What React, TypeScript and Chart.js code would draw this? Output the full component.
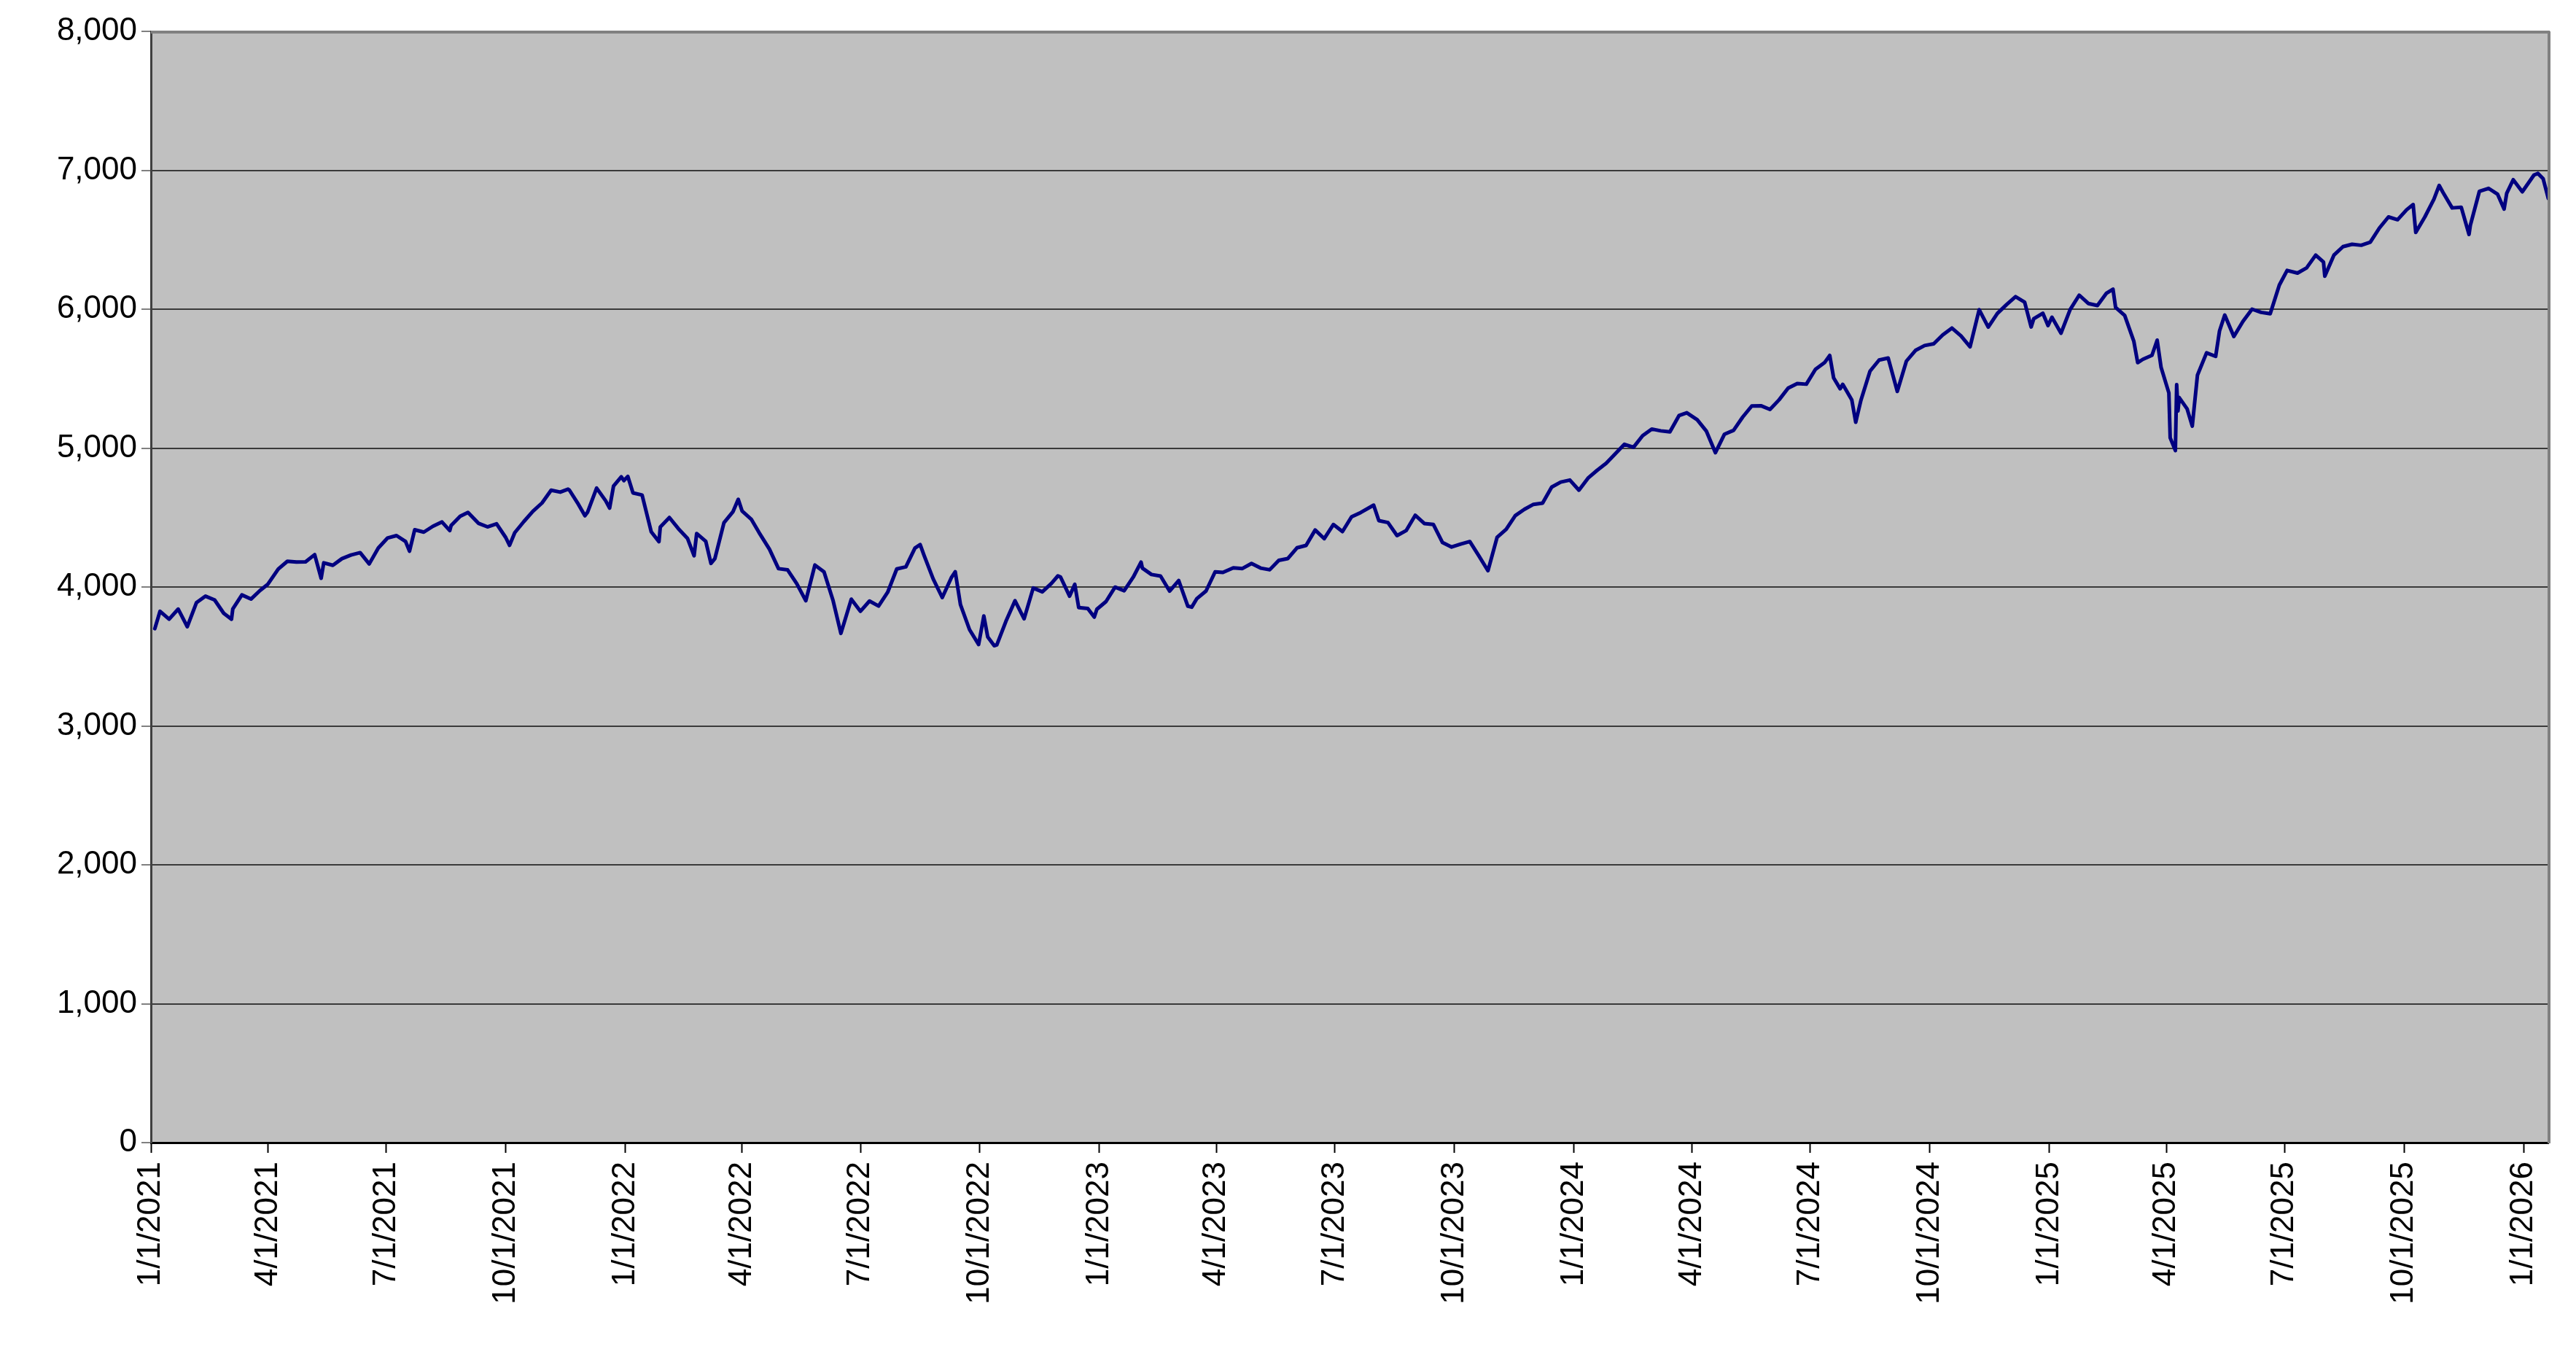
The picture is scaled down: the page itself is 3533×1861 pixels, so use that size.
import React, { useEffect, useRef } from "react";
import { Chart, registerables } from "chart.js";

Chart.register(...registerables);

const tickLabels = [
  "1/1/2021", "4/1/2021", "7/1/2021", "10/1/2021",
  "1/1/2022", "4/1/2022", "7/1/2022", "10/1/2022",
  "1/1/2023", "4/1/2023", "7/1/2023", "10/1/2023",
  "1/1/2024", "4/1/2024", "7/1/2024", "10/1/2024",
  "1/1/2025", "4/1/2025", "7/1/2025", "10/1/2025",
  "1/1/2026",
];

const yTicks = [0, 1000, 2000, 3000, 4000, 5000, 6000, 7000, 8000];

const dates2021 = [
  "2021-01-04","2021-01-08","2021-01-15","2021-01-22","2021-01-27","2021-01-29","2021-02-05","2021-02-12","2021-02-19","2021-02-26",
  "2021-03-04","2021-03-05","2021-03-12","2021-03-19","2021-03-26","2021-04-01","2021-04-09","2021-04-16","2021-04-23","2021-04-30",
  "2021-05-07","2021-05-12","2021-05-14","2021-05-21","2021-05-28","2021-06-04","2021-06-11","2021-06-18","2021-06-25","2021-07-02",
  "2021-07-09","2021-07-16","2021-07-19","2021-07-23","2021-07-30","2021-08-06","2021-08-13","2021-08-19","2021-08-20","2021-08-27",
  "2021-09-02","2021-09-10","2021-09-17","2021-09-24","2021-10-01","2021-10-04","2021-10-08","2021-10-15","2021-10-22","2021-10-29",
  "2021-11-05","2021-11-12","2021-11-18","2021-11-19","2021-11-26","2021-12-01","2021-12-03","2021-12-10","2021-12-17","2021-12-20",
  "2021-12-23","2021-12-29","2021-12-31",
];
const values2021 = [
  3700,3825,3768,3841,3750,3714,3887,3934,3907,3811,
  3768,3842,3943,3913,3975,4020,4129,4185,4180,4181,
  4233,4063,4174,4156,4204,4230,4247,4166,4281,4352,
  4370,4327,4258,4412,4395,4437,4468,4406,4442,4509,
  4537,4459,4433,4455,4357,4300,4391,4471,4545,4605,
  4697,4683,4704,4698,4595,4513,4538,4712,4620,4568,
  4726,4793,4766,
];

const dates2022 = [
  "2022-01-03","2022-01-07","2022-01-14","2022-01-21","2022-01-27","2022-01-28","2022-02-04","2022-02-11","2022-02-18","2022-02-23",
  "2022-02-25","2022-03-04","2022-03-08","2022-03-11","2022-03-18","2022-03-25","2022-03-29","2022-04-01","2022-04-08","2022-04-14",
  "2022-04-22","2022-04-29","2022-05-06","2022-05-13","2022-05-20","2022-05-27","2022-06-03","2022-06-10","2022-06-16","2022-06-24",
  "2022-07-01","2022-07-08","2022-07-15","2022-07-22","2022-07-29","2022-08-05","2022-08-12","2022-08-16","2022-08-19","2022-08-26",
  "2022-09-02","2022-09-09","2022-09-12","2022-09-16","2022-09-23","2022-09-30","2022-10-04","2022-10-07","2022-10-12","2022-10-14",
  "2022-10-21","2022-10-28","2022-11-04","2022-11-11","2022-11-18","2022-11-25","2022-11-30","2022-12-02","2022-12-09","2022-12-13",
  "2022-12-16","2022-12-23","2022-12-28","2022-12-30",
];
const values2022 = [
  4796,4677,4662,4398,4326,4432,4500,4419,4349,4225,
  4385,4329,4170,4204,4463,4543,4631,4546,4488,4392,
  4272,4132,4123,4024,3901,4158,4109,3901,3666,3912,
  3825,3899,3863,3962,4130,4145,4280,4305,4228,4058,
  3924,4067,4110,3873,3693,3586,3791,3640,3577,3583,
  3753,3901,3771,3993,3965,4026,4080,4072,3934,4019,
  3852,3845,3783,3840,
];

const dates2023 = [
  "2023-01-06","2023-01-13","2023-01-20","2023-01-27","2023-02-02","2023-02-03","2023-02-10","2023-02-17","2023-02-24","2023-03-03",
  "2023-03-10","2023-03-13","2023-03-17","2023-03-24","2023-03-31","2023-04-06","2023-04-14","2023-04-21","2023-04-28","2023-05-05",
  "2023-05-12","2023-05-19","2023-05-26","2023-06-02","2023-06-09","2023-06-16","2023-06-23","2023-06-30","2023-07-07","2023-07-14",
  "2023-07-21","2023-07-31","2023-08-04","2023-08-11","2023-08-18","2023-08-25","2023-09-01","2023-09-08","2023-09-15","2023-09-22",
  "2023-09-29","2023-10-06","2023-10-13","2023-10-20","2023-10-27","2023-11-03","2023-11-10","2023-11-17","2023-11-24","2023-12-01",
  "2023-12-08","2023-12-15","2023-12-22","2023-12-29",
];
const values2023 = [
  3895,3999,3973,4071,4179,4136,4090,4079,3970,4046,
  3862,3855,3917,3971,4109,4105,4138,4133,4169,4136,
  4124,4192,4205,4282,4299,4410,4348,4450,4399,4505,
  4536,4589,4478,4464,4370,4406,4516,4457,4450,4320,
  4288,4309,4327,4224,4117,4358,4415,4514,4559,4595,
  4604,4719,4755,4770,
];

const dates2024 = [
  "2024-01-05","2024-01-12","2024-01-19","2024-01-26","2024-02-02","2024-02-09","2024-02-16","2024-02-23","2024-03-01","2024-03-08",
  "2024-03-15","2024-03-22","2024-03-28","2024-04-05","2024-04-12","2024-04-19","2024-04-26","2024-05-03","2024-05-10","2024-05-17",
  "2024-05-24","2024-05-31","2024-06-07","2024-06-14","2024-06-21","2024-06-28","2024-07-05","2024-07-12","2024-07-16","2024-07-19",
  "2024-07-24","2024-07-26","2024-08-02","2024-08-05","2024-08-09","2024-08-16","2024-08-23","2024-08-30","2024-09-06","2024-09-13",
  "2024-09-20","2024-09-27","2024-10-04","2024-10-11","2024-10-18","2024-10-25","2024-11-01","2024-11-08","2024-11-15","2024-11-22",
  "2024-11-29","2024-12-06","2024-12-13","2024-12-18","2024-12-20","2024-12-27","2024-12-31",
];
const values2024 = [
  4697,4784,4840,4891,4959,5027,5006,5089,5137,5124,
  5117,5234,5254,5204,5123,4967,5100,5128,5223,5303,
  5305,5278,5347,5432,5465,5460,5567,5615,5667,5505,
  5427,5459,5346,5186,5344,5554,5634,5648,5408,5626,
  5703,5738,5751,5815,5864,5808,5729,5996,5871,5969,
  6032,6090,6051,5872,5931,5971,5882,
];

const dates2025 = [
  "2025-01-03","2025-01-10","2025-01-17","2025-01-24","2025-01-31","2025-02-07","2025-02-14","2025-02-19","2025-02-21","2025-02-28",
  "2025-03-07","2025-03-10","2025-03-14","2025-03-21","2025-03-25","2025-03-28","2025-04-03","2025-04-04","2025-04-08","2025-04-09",
  "2025-04-10","2025-04-11","2025-04-17","2025-04-21","2025-04-25","2025-05-02","2025-05-09","2025-05-12","2025-05-16","2025-05-23",
  "2025-05-30","2025-06-06","2025-06-13","2025-06-20","2025-06-27","2025-07-03","2025-07-11","2025-07-18","2025-07-25","2025-07-31",
  "2025-08-01","2025-08-08","2025-08-15","2025-08-22","2025-08-29","2025-09-05","2025-09-12","2025-09-19","2025-09-26","2025-10-03",
  "2025-10-08","2025-10-10","2025-10-17","2025-10-24","2025-10-28","2025-10-31","2025-11-07","2025-11-14","2025-11-20","2025-11-21",
  "2025-11-28","2025-12-05","2025-12-12","2025-12-17","2025-12-19","2025-12-24","2025-12-31",
];
const values2025 = [
  5942,5827,5997,6101,6041,6026,6115,6144,6013,5955,
  5770,5615,5639,5668,5777,5581,5397,5074,4982,5457,
  5268,5363,5283,5158,5525,5686,5660,5844,5958,5803,
  5912,6000,5977,5967,6173,6279,6260,6297,6389,6339,
  6238,6389,6450,6467,6460,6482,6584,6664,6644,6716,
  6753,6553,6664,6792,6891,6840,6729,6734,6538,6603,
  6849,6870,6827,6721,6834,6932,6845,
];

const dates2026 = ["2026-01-09", "2026-01-12", "2026-01-16", "2026-01-20"];
const values2026 = [6966, 6977, 6940, 6797];

const FONT_FAMILY = "'Liberation Sans', Arial, sans-serif";
const START = Date.UTC(2021, 0, 1);

function isoToDay(s: string): number {
  const [y, m, d] = s.split("-").map(Number);
  return Math.round((Date.UTC(y, m - 1, d) - START) / 86400000);
}
function usToDay(s: string): number {
  const [m, d, y] = s.split("/").map(Number);
  return Math.round((Date.UTC(y, m - 1, d) - START) / 86400000);
}

export default function App() {
  const canvasRef = useRef<HTMLCanvasElement | null>(null);

  useEffect(() => {
    document.body.style.margin = "0";
    const canvas = canvasRef.current;
    if (!canvas) return;

    const allDates = [...dates2021, ...dates2022, ...dates2023, ...dates2024, ...dates2025, ...dates2026];
    const allValues = [...values2021, ...values2022, ...values2023, ...values2024, ...values2025, ...values2026];
    const points = allDates.map((d, i) => ({ x: isoToDay(d), y: allValues[i] }));
    const tickDays = tickLabels.map(usToDay);
    const maxDay = isoToDay(allDates[allDates.length - 1]);

    const plotFrame = {
      id: "plotFrame",
      beforeDraw(chart: any) {
        const { ctx, chartArea } = chart;
        ctx.save();
        ctx.fillStyle = "#C0C0C0";
        ctx.fillRect(chartArea.left, chartArea.top, chartArea.right - chartArea.left, chartArea.bottom - chartArea.top);
        ctx.restore();
      },
      afterDraw(chart: any) {
        const { ctx, chartArea } = chart;
        ctx.save();
        ctx.strokeStyle = "#808080";
        ctx.lineWidth = 4;
        ctx.beginPath();
        ctx.moveTo(chartArea.left, chartArea.top + 1);
        ctx.lineTo(chartArea.right + 2, chartArea.top + 1);
        ctx.moveTo(chartArea.right + 1, chartArea.top);
        ctx.lineTo(chartArea.right + 1, chartArea.bottom + 1);
        ctx.stroke();
        ctx.restore();
      },
    };

    const chart = new Chart(canvas, {
      type: "line",
      data: {
        datasets: [
          {
            data: points,
            borderColor: "#000080",
            borderWidth: 5,
            borderJoinStyle: "round",
            borderCapStyle: "round",
            pointRadius: 0,
            tension: 0,
            fill: false,
          },
        ],
      },
      plugins: [plotFrame],
      options: {
        animation: false,
        responsive: true,
        maintainAspectRatio: false,
        devicePixelRatio: 1,
        parsing: false as any,
        layout: { padding: { top: 43, right: 38, left: 0, bottom: 0 } },
        plugins: {
          legend: { display: false },
          tooltip: { enabled: false },
        },
        scales: {
          x: {
            type: "linear",
            min: 0,
            max: maxDay,
            afterBuildTicks: (scale: any) => {
              scale.ticks = tickDays.map((v) => ({ value: v }));
            },
            afterFit: (scale: any) => {
              scale.height = 294;
            },
            ticks: {
              autoSkip: false,
              maxRotation: 90,
              minRotation: 90,
              padding: 12,
              color: "#000",
              font: { family: FONT_FAMILY, size: 44 },
              callback: (_v: any, i: number) => tickLabels[i],
            },
            grid: {
              drawOnChartArea: false,
              drawTicks: true,
              tickLength: 14,
              tickColor: "#000",
              tickWidth: 2,
            },
            border: { color: "#000", width: 3 },
          },
          y: {
            type: "linear",
            min: yTicks[0],
            max: yTicks[yTicks.length - 1],
            afterBuildTicks: (scale: any) => {
              scale.ticks = yTicks.map((v) => ({ value: v }));
            },
            afterFit: (scale: any) => {
              scale.width = 207;
            },
            ticks: {
              padding: 6,
              color: "#000",
              font: { family: FONT_FAMILY, size: 44 },
              callback: (v: any) => Number(v).toLocaleString("en-US"),
            },
            grid: {
              color: (c: any) => (c.tick && c.tick.value === 8000 ? "#808080" : "#3a3a3a"),
              lineWidth: 2,
              tickLength: 13,
              tickColor: "#808080",
              tickWidth: 2,
            },
            border: { color: "#404040", width: 3 },
          },
        },
      },
    });

    return () => {
      chart.destroy();
    };
  }, []);

  return (
    <div style={{ position: "fixed", left: 0, top: 0, width: "100vw", height: "100vh" }}>
      <canvas ref={canvasRef} />
    </div>
  );
}
